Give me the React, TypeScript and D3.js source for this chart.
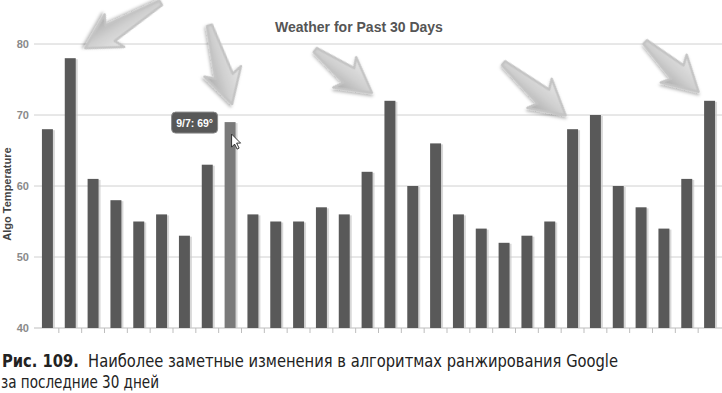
import React from "react";
import { scaleBand, scaleLinear } from "d3";

const width = 722;
const height = 393;
const margin = { top: 44, right: 1, bottom: 65, left: 36 };

const days = Array.from({ length: 30 }, (_, i) => `d${i + 1}`);
const temps = [
  68, 78, 61, 58, 55, 56, 53, 63, 69, 56, 55, 55, 57, 56, 62, 72, 60, 66, 56,
  54, 52, 53, 55, 68, 70, 60, 57, 54, 61, 72,
];
const yTicks = [40, 50, 60, 70, 80];
const highlighted = 8;
const tooltipText = "9/7: 69°";

// arrow annotations: which bar they point at, offset of the tip, direction and length
const arrowBars = [1, 8, 15, 23, 29];
const arrowTipOffset = [
  [15, -10],
  [2, -18],
  [-18, -8],
  [-7, -14],
  [-11, -9],
];
const arrowAngles = [149, 74, 37, 40, 43];
const arrowLengths = [88, 82, 71, 81, 73];

const captionBold = "Рис. 109.";
const captionLine1 = "Наиболее заметные изменения в алгоритмах ранжирования Google";
const captionLine2 = "за последние 30 дней";

function arrowPath(len: number) {
  // tip at origin, pointing to +x; tail tapers to a narrow end
  const headLen = 34;
  const headHalf = 19;
  const shaftNear = 9;
  const shaftFar = 2.5;
  return (
    [
      [0, 0],
      [-headLen, -headHalf],
      [-headLen + 5, -shaftNear],
      [-len, -shaftFar],
      [-len, shaftFar],
      [-headLen + 5, shaftNear],
      [-headLen, headHalf],
    ]
      .map((p, i) => `${i ? "L" : "M"}${p[0]},${p[1]}`)
      .join("") + "Z"
  );
}

export default function App() {
  const x = scaleBand()
    .domain(days)
    .range([margin.left, width - margin.right])
    .paddingInner(0.52)
    .paddingOuter(0.26);
  const y = scaleLinear()
    .domain([40, 80])
    .range([height - margin.bottom, margin.top]);
  const step = x.step();
  const bottom = y(40);

  const hx = x(days[highlighted])!;
  const hy = y(temps[highlighted]);

  return (
    <svg
      width={width}
      height={height}
      style={{ position: "absolute", left: 0, top: 0, background: "#fff" }}
      fontFamily="'Liberation Sans', Arial, sans-serif"
    >
      <defs>
        <linearGradient id="arrowGrad" x1="0" y1="0" x2="0" y2="1">
          <stop offset="0" stopColor="#e6e6e6" />
          <stop offset="0.5" stopColor="#d0d0d0" />
          <stop offset="1" stopColor="#ababab" />
        </linearGradient>
        <filter id="arrowShadow" x="-30%" y="-30%" width="160%" height="160%">
          <feDropShadow dx="1.5" dy="2" stdDeviation="1.5" floodColor="#000" floodOpacity="0.28" />
        </filter>
      </defs>

      <text x={359} y={32} textAnchor="middle" fontSize={14} fontWeight="bold" fill="#555">
        Weather for Past 30 Days
      </text>

      {yTicks.map((t) => (
        <g key={t}>
          <line
            x1={margin.left - 2}
            x2={width}
            y1={y(t)}
            y2={y(t)}
            stroke={t === 40 ? "#bdbdbd" : "#d0d0d0"}
            strokeWidth={1}
          />
          <text
            x={29}
            y={y(t) + 4}
            textAnchor="end"
            fontSize={11}
            fontWeight="bold"
            fill="#8a8a8a"
          >
            {t}
          </text>
        </g>
      ))}

      {days.slice(1).map((d) => {
        const tx = x(d)! - (step - x.bandwidth()) / 2;
        return <line key={d} x1={tx} x2={tx} y1={bottom} y2={bottom + 5} stroke="#bdbdbd" />;
      })}

      <text
        transform={`translate(11,${(margin.top + bottom) / 2 + 8}) rotate(-90)`}
        textAnchor="middle"
        fontSize={11}
        fontWeight="bold"
        fill="#444"
      >
        Algo Temperature
      </text>

      {temps.map((v, i) => (
        <g key={days[i]}>
          <rect
            x={x(days[i])! + 2}
            y={y(v) + 1}
            width={x.bandwidth()}
            height={bottom - y(v) - 1}
            fill="#c8c8c8"
            opacity={0.7}
          />
          <rect
            x={x(days[i])!}
            y={y(v)}
            width={x.bandwidth()}
            height={bottom - y(v)}
            fill={i === highlighted ? "#7a7a7a" : "#595959"}
          />
        </g>
      ))}

      {arrowBars.map((b, i) => {
        const tx = x(days[b])! + x.bandwidth() / 2 + arrowTipOffset[i][0];
        const ty = y(temps[b]) + arrowTipOffset[i][1];
        return (
          <path
            key={`arrow-${i}`}
            d={arrowPath(arrowLengths[i])}
            transform={`translate(${tx},${ty}) rotate(${arrowAngles[i]})`}
            fill="url(#arrowGrad)"
            stroke="#c4c4c4"
            strokeWidth={2.5}
            strokeLinejoin="round"
            filter="url(#arrowShadow)"
          />
        );
      })}

      <g transform={`translate(${hx - 53},${hy - 10})`}>
        <rect width={46} height={21} rx={4} fill="#585858" stroke="#8a8a8a" />
        <text x={23} y={14.5} textAnchor="middle" fontSize={10.5} fontWeight="bold" fill="#fff">
          {tooltipText}
        </text>
      </g>

      <path
        d="M0,0 L0,13 L3,10 L5.5,15 L7.5,14 L5,9 L9,9 Z"
        transform={`translate(${hx + 7},${hy + 12})`}
        fill="#fff"
        stroke="#222"
        strokeWidth={0.9}
        strokeLinejoin="round"
      />

      <g
        fontFamily="'Liberation Sans Narrow', 'DejaVu Sans Condensed', 'Open Sans', sans-serif"
        fontSize={18}
        fill="#222"
      >
        <text x={2} y={367} textLength={616} lengthAdjust="spacingAndGlyphs">
          <tspan fontWeight="bold">{captionBold}</tspan>
          <tspan>{"\u00a0\u00a0" + captionLine1}</tspan>
        </text>
        <text x={1} y={388} textLength={158} lengthAdjust="spacingAndGlyphs">
          {captionLine2}
        </text>
      </g>
    </svg>
  );
}
